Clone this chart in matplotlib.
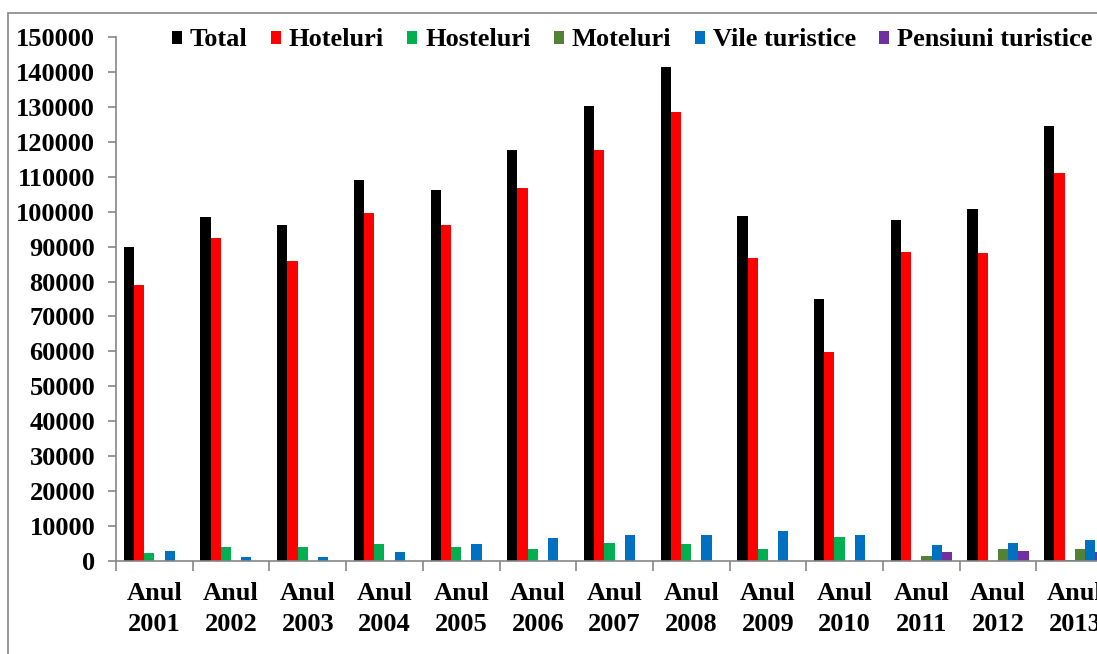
import numpy as np
import matplotlib
matplotlib.use("Agg")
import matplotlib.pyplot as plt
from matplotlib.patches import Rectangle

# Data
years = ["2001", "2002", "2003", "2004", "2005", "2006", "2007",
         "2008", "2009", "2010", "2011", "2012", "2013"]
total = [89900, 98400, 96100, 109000, 106100, 117700, 130300,
         141300, 98800, 74900, 97600, 100700, 124500]
hoteluri = [78900, 92500, 85900, 99500, 96200, 106900, 117600,
            128500, 86700, 59700, 88500, 88100, 111000]
hosteluri = [2400, 4100, 4100, 5000, 4100, 3500, 5200,
             5000, 3500, 7000, 0, 0, 400]
moteluri = [0, 0, 0, 0, 0, 0, 0, 0, 0, 0, 1500, 3500, 3500]
vile = [3000, 1200, 1200, 2700, 5000, 6700, 7500,
        7500, 8600, 7500, 4600, 5200, 6000]
pensiuni = [0, 0, 0, 0, 0, 0, 0, 0, 0, 0, 2700, 3000, 2700]

series = [("Total", total, "#000000"),
          ("Hoteluri", hoteluri, "#FF0000"),
          ("Hosteluri", hosteluri, "#00B050"),
          ("Moteluri", moteluri, "#548235"),
          ("Vile turistice", vile, "#0070C0"),
          ("Pensiuni turistice", pensiuni, "#7030A0")]

plt.rcParams["font.family"] = ["Liberation Serif", "DejaVu Serif"]
plt.rcParams["font.weight"] = "bold"

W, H = 1097, 654
fig = plt.figure(figsize=(W / 100, H / 100), dpi=100)
ax = fig.add_axes([116 / W, 1 - 561 / H, 13 * 76.7 / W, (561 - 37) / H])

x = np.arange(len(years))
bw = 0.133
for i, (name, vals, col) in enumerate(series):
    ax.bar(x + (i - 2.5) * bw, vals, bw, color=col, label=name)

ax.set_xlim(-0.5, len(years) - 0.5)
ax.set_ylim(0, 150000)
ax.set_yticks(np.arange(0, 150001, 10000))
ax.set_xticks(x)
ax.set_xticklabels(["Anul\n" + y for y in years], linespacing=1.45)
ax.set_xticks(np.arange(-0.5, len(years)), minor=True)

grey = "#868686"
for s in ["top", "right"]:
    ax.spines[s].set_visible(False)
for s in ["left", "bottom"]:
    ax.spines[s].set_color(grey)
    ax.spines[s].set_linewidth(1.2)

ax.tick_params(axis="y", length=6, color=grey, width=1.2, pad=9, labelsize=19)
ax.tick_params(axis="x", which="major", length=0, pad=15, labelsize=19)
ax.tick_params(axis="x", which="minor", length=7, color=grey, width=1.2)

leg = fig.legend(loc="center left", bbox_to_anchor=(172 / W, 1 - 40 / H),
                 ncol=6, frameon=False, fontsize=19,
                 handlelength=0.38, handleheight=0.38, handletextpad=0.3,
                 columnspacing=0.88, borderaxespad=0, borderpad=0)

# outer chart border (cut off at the right and bottom)
fig.patches.append(Rectangle((8 / W, -0.1), 1.2, 1 - 13 / H + 0.1,
                             transform=fig.transFigure, fill=False,
                             edgecolor=grey, linewidth=1.2))

fig.savefig("out.png", dpi=100)
